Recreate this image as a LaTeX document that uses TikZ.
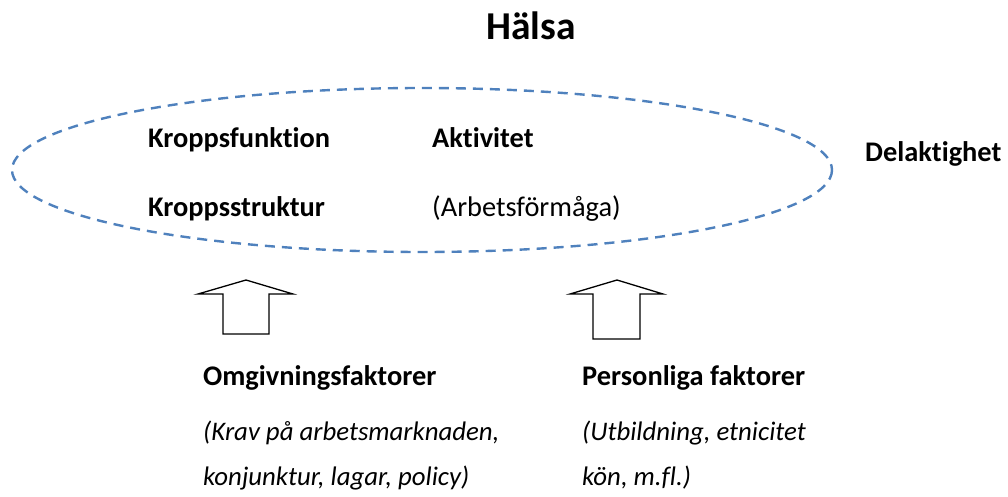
\documentclass[tikz,border=0pt]{standalone}
\usepackage{fontspec}
\setmainfont{Carlito}[Ligatures={NoCommon}]
\usepackage{tikz}
\usetikzlibrary{positioning}

\definecolor{officeblue}{RGB}{79,129,189}

\tikzset{
  label text/.style={anchor=base west,inner sep=0pt,font=\fontsize{28.4}{34}\selectfont},
  head text/.style={label text,font=\fontsize{28.4}{34}\selectfont\bfseries},
  note text/.style={label text,font=\fontsize{26.8}{34}\selectfont\itshape},
  up arrow/.style={draw=black,line width=1.3pt,fill=white,line join=miter},
}

\begin{document}
\begin{tikzpicture}[x=1pt,y=-1pt]
\useasboundingbox (0,0) rectangle (1008,497);

\node[anchor=base,inner sep=0pt,font=\fontsize{39.5}{46}\selectfont\bfseries] (halsa) at (531,40) {Hälsa};

\draw[officeblue,line width=2.4pt,dash pattern=on 10pt off 7pt] (422,170) ellipse [x radius=410,y radius=82];

\node[head text] (kf) at (148,148) {Kroppsfunktion};
\node[head text] (ks) at (148,216) {Kroppsstruktur};
\node[head text] (akt) at (432,148) {Aktivitet};
\node[label text] (af) at (432,216) {(Arbetsförmåga)};
\node[head text] (del) at (865,161) {Delaktighet};

% pilar
\draw[up arrow] (223,334) -- (223,294) -- (198,294) -- (246,280) -- (293,294) -- (269,294) -- (269,334) -- cycle;
\draw[up arrow] (593,339) -- (593,294) -- (570,294) -- (617,280) -- (663,294) -- (640,294) -- (640,339) -- cycle;

\node[head text] (omg) at (203,385) {Omgivningsfaktorer};
\node[note text] (omg a) at (203,440) {(Krav på arbetsmarknaden,};
\node[note text] (omg b) at (203,485) {konjunktur, lagar, policy)};

\node[head text] (pers) at (582,385) {Personliga faktorer};
\node[note text] (pers a) at (582,440) {(Utbildning, etnicitet};
\node[note text] (pers b) at (582,485) {kön, m.fl.)};
\end{tikzpicture}
\end{document}
